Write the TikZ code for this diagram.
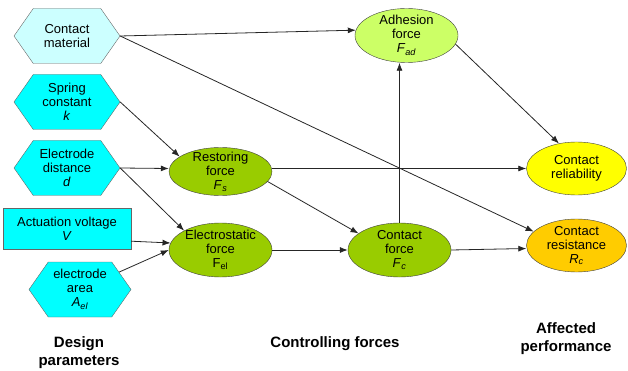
\documentclass[tikz,border=0pt]{standalone}
\usepackage{fontspec}
\setmainfont{Liberation Sans}
\usetikzlibrary{arrows.meta,shapes.geometric,shapes.symbols}
\definecolor{paleCyan}{HTML}{CCFFFF}
\definecolor{paramCyan}{HTML}{00FFFF}
\definecolor{forceGreen}{HTML}{99CC00}
\definecolor{adhGreen}{HTML}{CCFF66}
\definecolor{relYellow}{HTML}{FFFF00}
\definecolor{resOrange}{HTML}{FFCC00}
\begin{document}
\begin{tikzpicture}[x=1pt,y=-1pt,
	hexa/.style={signal,signal to=east and west,signal pointer angle=110,draw=black!60,fill=paramCyan,
		minimum width=106pt,minimum height=55pt,inner sep=0pt,align=center,font=\fontsize{13}{14}\selectfont},
	parbox/.style={rectangle,draw=black!60,fill=paramCyan,minimum width=128pt,minimum height=41pt,
		inner sep=0pt,align=center,font=\fontsize{13}{14}\selectfont},
	force/.style={ellipse,draw=black!75,fill=forceGreen,minimum width=103pt,minimum height=54pt,
		inner xsep=0pt,inner ysep=-4pt,align=center,font=\fontsize{13}{14}\selectfont},
	perf/.style={force,minimum width=100pt,minimum height=53pt},
	lbl/.style={align=center,font=\fontsize{15}{18}\selectfont\bfseries},
	arr/.style={draw=black!85,line width=0.8pt,-{Latex[length=8pt,width=6pt]}}]
	\useasboundingbox (0,0) rectangle (628,371);
	%design parameters
	\node[hexa,fill=paleCyan] (mat) at (67,36) {Contact\\material};
	\node[hexa] (spring) at (67,102) {Spring\\constant\\\textit{k}};
	\node[hexa] (dist) at (67,168) {Electrode\\distance\\\textit{d}};
	\node[parbox] (volt) at (67,228.5) {Actuation voltage\\\textit{V}};
	\node[hexa,minimum width=102pt] (area) at (80,289.5) {electrode\\area\\\textit{A}\textsubscript{\textit{el}}};
	%controlling forces
	\node[force,minimum height=48pt] (rest) at (220.5,171.5) {Restoring\\force\\\textit{F}\textsubscript{\textit{s}}};
	\node[force] (elec) at (220.5,250) {Electrostatic\\force\\F\textsubscript{el}};
	\node[force] (cf) at (399.5,250) {Contact\\force\\\textit{F}\textsubscript{\textit{c}}};
	\node[force,fill=adhGreen] (adh) at (406.5,35.5) {Adhesion\\force\\\textit{F}\textsubscript{\textit{ad}}};
	%performance
	\node[perf,fill=relYellow] (rel) at (576.5,168.5) {Contact\\reliability};
	\node[perf,fill=resOrange] (res) at (576.5,245.5) {Contact\\resistance\\\textit{R}\textsubscript{\textit{c}}};
	%column labels
	\node[lbl] (dlab) at (79,353) {Design\\parameters};
	\node[lbl] (clab) at (335,344) {Controlling forces};
	\node[lbl] (alab) at (566,339) {Affected\\performance};
	%links
	\draw[arr] (mat.east) -- (adh.174);
	\draw[arr] (mat.east) -- (res.162);
	\draw[arr] (spring.east) -- (rest.160);
	\draw[arr] (dist.east) -- ([yshift=3pt]rest.west);
	\draw[arr] (dist.east) -- (elec.152);
	\draw[arr] ([yshift=8pt]volt.south east) -- (elec.172);
	\draw[arr] (area) -- (elec.west);
	\draw[arr] ([yshift=3pt]rest.east) -- (rel.west);
	\draw[arr] (rest.-12) -- (cf.158);
	\draw[arr] (elec.east) -- (cf.west);
	\draw[arr] (cf.north) -- (cf.north |- adh.south);
	\draw[arr] (cf.east) -- ([yshift=-3pt]res.west);
	\draw[arr] (adh.-10) -- (rel.125);
\end{tikzpicture}
\end{document}
